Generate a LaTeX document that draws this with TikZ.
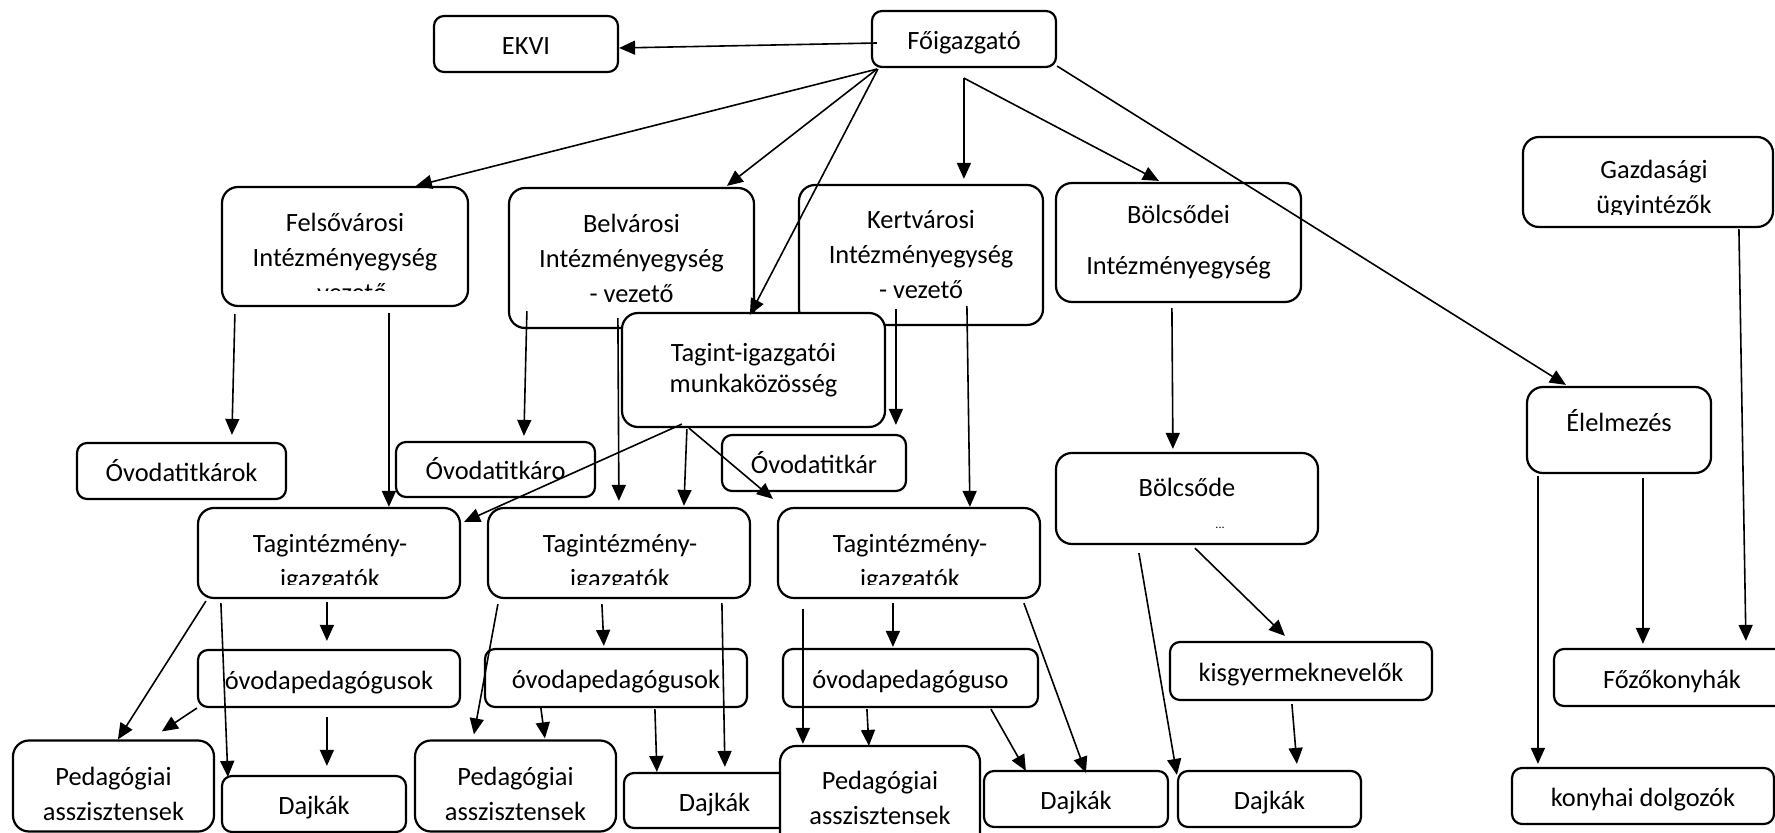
\documentclass[tikz,border=0pt]{standalone}
\usepackage{fontspec}
\setmainfont{Carlito}
\usetikzlibrary{arrows.meta}
\tikzset{box/.style={draw, line width=1.1pt, rounded corners=5pt, fill=white, align=center, inner sep=0pt},
         tall/.style={rounded corners=8pt},
         one/.style={text height=10.5pt, text depth=0pt},
         sz/.style 2 args={minimum width=#1*0.5pt, minimum height=#2*0.5pt},
         txt/.style={align=center, inner sep=0pt},
         arr/.style={-{Triangle[length=8pt,width=7pt]}, line width=0.8pt}}

\begin{document}
\begin{tikzpicture}[x=0.5pt,y=-0.5pt,font=\fontsize{13.2pt}{17.5pt}\selectfont]
   \useasboundingbox (0,0) rectangle (1775,833);

   % top
   \node[box, one, sz={184}{56}] (ekvi) at (526,44) {EKVI};
   \node[box, one, sz={184}{56}] (foig) at (964,39) {Főigazgató};

   % units
   \node[box, tall, sz={246}{119}] (fels) at (345,246.5) {};
   \begin{scope}
    \clip (fels.north west) rectangle ([shift={(0,-17)}]fels.south east);
    \node[txt] (felstxt) at ([shift={(0,10.5)}]fels.center) {Felsővárosi\\Intézményegység\\- vezető};
   \end{scope}
   \node[box, tall, sz={245}{140}] (belv) at (631.5,258) {Belvárosi\\Intézményegység\\- vezető};
   \node[box, tall, sz={244}{140}] (kert) at (921,255) {Kertvárosi\\Intézményegység\\- vezető};
   \node[box, tall, sz={245}{119}] (bolcsi) at (1178.5,242.5) {Bölcsődei\\[8pt]Intézményegység};
   \node[box, tall, sz={250}{90}] (gazd) at (1648,182) {};
   \begin{scope}
    \clip (gazd.north west) rectangle ([shift={(0,-14)}]gazd.south east);
    \node[txt] (gazdtxt) at ([shift={(6,7)}]gazd.center) {Gazdasági\\ügyintézők};
   \end{scope}
   \node[box, tall, sz={263}{114}] (tagint) at (753.5,370) {Tagint-igazgatói\\[-2pt]munkaközösség};

   % secretaries, kitchen, nursery
   \node[box, one, sz={209}{56}] (ovt1) at (181.5,471) {Óvodatitkárok};
   \node[box, one, sz={199}{55}] (ovt2) at (495.5,469.5) {Óvodatitkáro};
   \node[box, one, sz={184}{56}] (ovt3) at (814,463) {Óvodatitkár};
   \node[box, tall, sz={184}{86}] (elel) at (1619,430) {};
   \node[txt] (eleltxt) at ([shift={(0,-9)}]elel.center) {Élelmezés};
   \node[box, tall, sz={262}{91}] (bolcs) at (1187,498.5) {};
   \node[txt] (bolcstxt) at ([shift={(0,-11.5)}]bolcs.center) {Bölcsőde};
   \node[txt, font=\fontsize{6pt}{6pt}\selectfont] (bolcsdots) at ([shift={(33,29.5)}]bolcs.center) {...};

   % member institutions
   \foreach \t/\x in {t1/329,t2/619,t3/909} {
    \node[box, tall, sz={262}{90}] (\t) at (\x,553) {};
    \begin{scope}
     \clip (\t.north west) rectangle ([shift={(0,-15)}]\t.south east);
     \node[txt] (\t txt) at ([shift={(1,10)}]\t.center) {Tagintézmény-\\igazgatók};
    \end{scope}
   }
   \node[box, one, sz={262}{57}] (op1) at (329,678.5) {óvodapedagógusok};
   \node[box, one, sz={262}{58}] (op2) at (616,678) {óvodapedagógusok};
   \node[box, one, sz={255}{58}] (op3) at (910.5,678) {óvodapedagóguso};
   \node[box, one, sz={262}{58}] (kisgy) at (1301,671) {kisgyermeknevelők};
   \node[box, one, sz={236}{57}] (fozo) at (1672,677.5) {Főzőkonyhák};

   % bottom row
   \node[box, tall, sz={201}{91}] (ped1) at (113.5,786) {};
   \node[txt] (ped1txt) at ([shift={(0,7.5)}]ped1.center) {Pedagógiai\\asszisztensek};
   \node[box, one, sz={184}{56}] (daj1) at (314,804) {Dajkák};
   \node[box, tall, sz={201}{91}] (ped2) at (515.5,786) {};
   \node[txt] (ped2txt) at ([shift={(0,7.5)}]ped2.center) {Pedagógiai\\asszisztensek};
   \node[box, one, sz={181}{55}] (daj2) at (714.5,800.5) {Dajkák};
   \node[box, tall, sz={200}{104}] (ped3) at (880,798) {Pedagógiai\\asszisztensek};
   \node[box, one, sz={184}{56}] (daj3) at (1076,799) {Dajkák};
   \node[box, one, sz={183}{56}] (daj4) at (1269.5,799) {Dajkák};
   \node[box, one, sz={262}{56}] (konyha) at (1643,796) {konyhai dolgozók};

   % from the head
   \draw[arr] ([shift={(6,4)}]foig.west) -- ([shift={(0,4)}]ekvi.east);
   \draw[arr] ([shift={(6,1)}]foig.south west) -- ([shift={(195,0)}]fels.north west);
   \draw[arr] ([shift={(6,1)}]foig.south west) -- ([shift={(219,-1)}]belv.north west);
   \draw[arr] ([shift={(7,1)}]foig.south west) -- ([shift={(129,3)}]tagint.north west);
   \draw[arr] ([shift={(93,10)}]foig.south west) -- ([shift={(166,-5)}]kert.north west);
   \draw[arr] ([shift={(93,10)}]foig.south west) -- ([shift={(104,-1)}]bolcsi.north west);
   \draw[arr] ([shift={(0,-2)}]foig.south east) -- ([shift={(40,-1)}]elel.north west);

   % units down
   \draw[arr] ([shift={(14,7)}]fels.south west) -- ([shift={(156,-7)}]ovt1.north west);
   \draw[arr] ([shift={(168,6)}]fels.south west) -- ([shift={(192,0)}]t1.north west);
   \draw[arr] ([shift={(19,-18)}]belv.south west) -- ([shift={(129,-5)}]ovt2.north west);
   \draw[arr] ([shift={(110,-11)}]belv.south west) -- ([shift={(132,-6)}]t2.north west);
   \draw[arr] ([shift={(61,-4)}]tagint.south west) -- ([shift={(3,15)}]t1.north east);
   \draw[arr] ([shift={(66,1)}]tagint.south west) -- ([shift={(197,-1)}]t2.north west);
   \draw[arr] ([shift={(68,0)}]tagint.south west) -- ([shift={(-4,-8)}]t3.north west);
   \draw[arr] ([shift={(98,-17)}]kert.south west) -- ([shift={(175,-9)}]ovt3.north west);
   \draw[arr] ([shift={(169,-20)}]kert.south west) -- ([shift={(193,0)}]t3.north west);
   \draw[arr] ([shift={(117,5)}]bolcsi.south west) -- ([shift={(118,-3)}]bolcs.north west);

   % kitchen
   \draw[arr] ([shift={(217,1)}]gazd.south west) -- ([shift={(193,-7)}]fozo.north west);
   \draw[arr] ([shift={(117,4)}]elel.south west) -- ([shift={(90,-4)}]fozo.north west);
   \draw[arr] ([shift={(12,2)}]elel.south west) -- ([shift={(27,-3)}]konyha.north west);

   % nursery
   \draw[arr] ([shift={(140,3)}]bolcs.south west) -- ([shift={(116,-5)}]kisgy.north west);
   \draw[arr] ([shift={(123,3)}]kisgy.south west) -- ([shift={(120,-6)}]daj4.north west);
   \draw[arr] ([shift={(84,8)}]bolcs.south west) -- ([shift={(0,5)}]daj4.north west);

   % first member institution
   \draw[arr] ([shift={(9,2)}]t1.south west) -- ([shift={(106,0)}]ped1.north west);
   \draw[arr] ([shift={(24,4)}]t1.south west) -- ([shift={(7,2)}]daj1.north west);
   \draw[arr] ([shift={(130,3)}]t1.south west) -- ([shift={(130,-8)}]op1.north west);
   \draw[arr] (op1.south west) -- ([shift={(150,-8)}]ped1.north west);
   \draw[arr] ([shift={(130,9)}]op1.south west) -- ([shift={(106,-9)}]daj1.north west);

   % second
   \draw[arr] ([shift={(11,5)}]t2.south west) -- ([shift={(60,-5)}]ped2.north west);
   \draw[arr] ([shift={(115,5)}]t2.south west) -- ([shift={(120,-2)}]op2.north west);
   \draw[arr] ([shift={(57,0)}]op2.south west) -- ([shift={(131,-1)}]ped2.north west);
   \draw[arr] ([shift={(171,1)}]op2.south west) -- ([shift={(34,0)}]daj2.north west);
   \draw[arr] ([shift={(235,4)}]t2.south west) -- ([shift={(102,-5)}]daj2.north west);

   % third
   \draw[arr] ([shift={(26,10)}]t3.south west) -- ([shift={(24,-1)}]ped3.north west);
   \draw[arr] ([shift={(116,4)}]t3.south west) -- ([shift={(111,-1)}]op3.north west);
   \draw[arr] ([shift={(85,1)}]op3.south west) -- ([shift={(90,1)}]ped3.north west);
   \draw[arr] ([shift={(209,1)}]op3.south west) -- ([shift={(43,1)}]daj3.north west);
   \draw[arr] ([shift={(247,4)}]t3.south west) -- ([shift={(103,3)}]daj3.north west);
\end{tikzpicture}
\end{document}
